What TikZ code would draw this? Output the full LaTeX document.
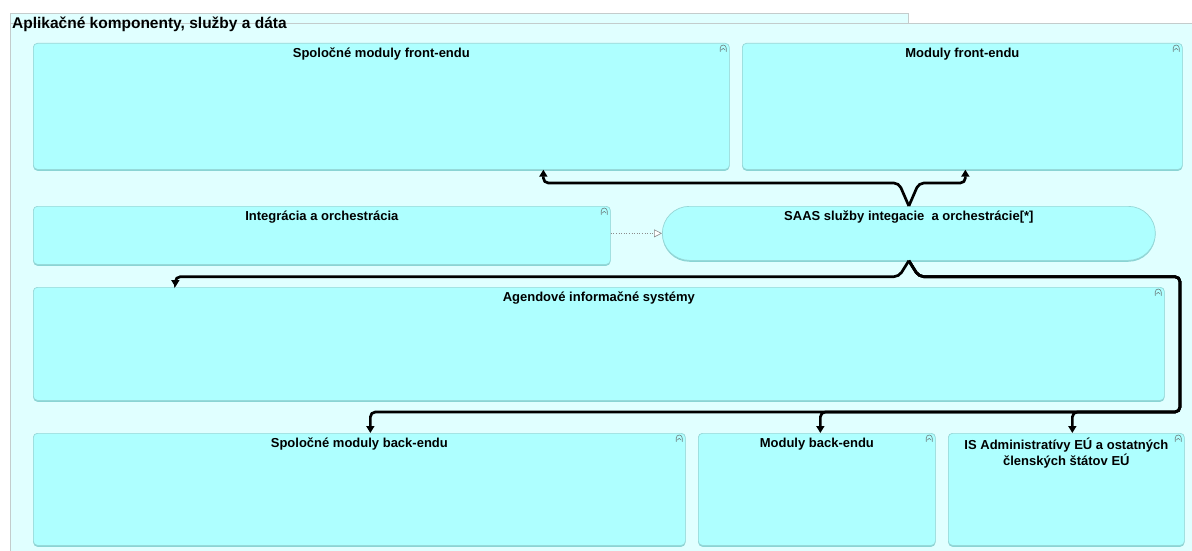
\documentclass[tikz,border=0pt]{standalone}
\usepackage{fontspec}
\setmainfont{Liberation Sans}
\usetikzlibrary{arrows.meta}

\definecolor{grpfill}{RGB}{224,255,255}
\definecolor{grpline}{RGB}{196,204,204}
\definecolor{boxfill}{RGB}{174,255,255}
\definecolor{boxline}{RGB}{150,214,214}
\definecolor{boxshade}{RGB}{138,212,212}
\definecolor{icongray}{RGB}{110,128,128}
\definecolor{realgray}{RGB}{140,140,140}

\tikzset{
  box/.style={draw=boxline, fill=boxfill, line width=0.7pt, rounded corners=4pt,
    anchor=north west, inner sep=0pt,
    preaction={fill=boxshade, transform canvas={yshift=-1.4pt}}},
  pill/.style={box, rounded corners=27pt},
  boxtitle/.style={anchor=north, inner sep=0pt, align=center,
    font=\bfseries\fontsize{13}{16}\selectfont},
  grouptitle/.style={anchor=base west, inner sep=0pt,
    font=\bfseries\fontsize{15.5}{18}\selectfont},
  conn/.style={line width=2.7pt, black, rounded corners=5pt,
    -{Triangle[length=7pt,width=8pt]}},
  realize/.style={realgray, line width=0.6pt, dotted,
    -{Triangle[open,length=8pt,width=8pt,fill=white]}},
  collapse/.pic={
    \draw[icongray, line width=0.6pt, line cap=round, line join=round]
      (-3,3.5) -- (-3,0) arc (180:360:3) -- (3,3.5);
    \draw[icongray, line width=0.6pt, line cap=round, line join=round]
      (-1.8,2) -- (0,0.3) -- (1.8,2);
  }
}

\begin{document}
\begin{tikzpicture}[x=1pt, y=-1pt]
  \useasboundingbox (0,0) rectangle (1192,551);
  \clip (0,0) rectangle (1192,551);

  % group container with its tab
  \fill[grpfill] (10,13) rectangle (908,23);
  \fill[grpfill] (10,23) rectangle (1200,560);
  \draw[grpline, line width=0.7pt] (10,23) -- (10,13) -- (908,13) -- (908,23);
  \draw[grpline, line width=0.7pt] (10,560) -- (10,23) -- (1200,23);
  \node[grouptitle] (grp) at (12,29) {Aplikačné komponenty, služby a dáta};

  % elements
  \node[box, minimum width=696pt, minimum height=126pt] (sfe) at (33,43) {};
  \node[box, minimum width=440pt, minimum height=126pt] (mfe) at (742,43) {};
  \node[box, minimum width=577pt, minimum height=58pt]  (int) at (33,206) {};
  \node[pill, minimum width=493pt, minimum height=54pt] (saas) at (662,206) {};
  \node[box, minimum width=1131pt, minimum height=113pt] (ais) at (33,287) {};
  \node[box, minimum width=652pt, minimum height=112pt] (sbe) at (33,433) {};
  \node[box, minimum width=237pt, minimum height=112pt] (mbe) at (698,433) {};
  \node[box, minimum width=236pt, minimum height=112pt] (isa) at (948,433) {};

  % element names
  \node[boxtitle] (tsfe) at ([yshift=-5pt]sfe.north) {Spoločné moduly front-endu};
  \node[boxtitle] (tmfe) at ([yshift=-5pt]mfe.north) {Moduly front-endu};
  \node[boxtitle] (tint) at ([yshift=-5pt]int.north) {Integrácia a orchestrácia};
  \node[boxtitle] (tsaas) at ([yshift=-5pt]saas.north) {SAAS služby integacie \ a orchestrácie[*]};
  \node[boxtitle] (tais) at ([yshift=-5pt]ais.north) {Agendové informačné systémy};
  \node[boxtitle] (tsbe) at ([yshift=-5pt]sbe.north) {Spoločné moduly back-endu};
  \node[boxtitle] (tmbe) at ([yshift=-5pt]mbe.north) {Moduly back-endu};
  \node[boxtitle] (tisa) at ([yshift=-5pt]isa.north) {IS Administratívy EÚ a ostatných\\členských štátov EÚ};

  % collapse markers in the top right corners
  \foreach \n in {sfe,mfe,int,ais,sbe,mbe,isa}
    \pic at ([xshift=-6.5pt,yshift=-5pt]\n.north east) {collapse};

  % realization
  \draw[realize] (int.east |- saas.west) -- (saas.west);

  % serving flows from the SAAS services
  \coordinate (bus) at (1180,412);
  \draw[conn] (saas.north) -- ++(-10,-23) -| ([xshift=162pt]sfe.south);
  \draw[conn] (saas.north) -- ++(10,-23) -| ([xshift=3pt]mfe.south);
  \draw[conn] (saas.south) -- ++(-10,16) -| ([xshift=-423.5pt]ais.north);
  \draw[conn] (saas.south) -- ++(10,16) -| (bus) -| ([xshift=11pt]sbe.north);
  \draw[conn] (saas.south) -- ++(10,16) -| (bus) -| ([xshift=3.5pt]mbe.north);
  \draw[conn] (saas.south) -- ++(10,16) -| (bus) -| ([xshift=6pt]isa.north);
\end{tikzpicture}
\end{document}
